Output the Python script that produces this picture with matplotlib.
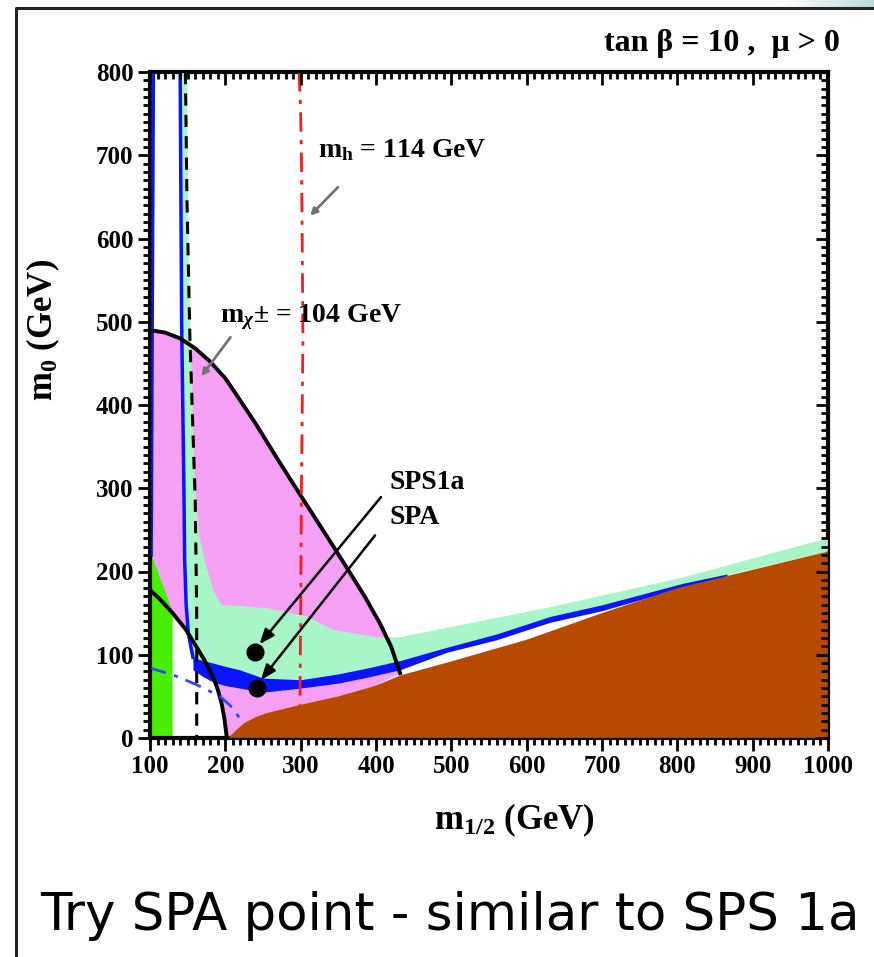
import numpy as np
import matplotlib.pyplot as plt
from matplotlib.colors import LinearSegmentedColormap
from matplotlib.ticker import MultipleLocator
from matplotlib.lines import Line2D

# ---- data (m_1/2, m_0 in GeV) ----
# outer g-2 boundary (solid black)
outer_x = [100, 120, 140, 160, 180, 200, 215, 240, 270, 303, 335, 361, 385, 405, 420, 432]
outer_y = [490, 487, 480, 468, 452, 432, 412, 378, 334, 287, 242, 205, 170, 138, 110, 78]
# inner g-2 boundary
inner_x = [100, 115, 130, 147, 162, 172, 180, 186, 190, 195, 199, 202]
inner_y = [178, 165, 150, 131, 109, 94, 80, 68, 58, 42, 22, 0]
# charged LSP region edge (brown)
stau_x = [200, 206, 215, 225, 240, 255, 300, 350, 400, 432, 500, 600, 700, 800, 900, 1000]
stau_y = [0, 2, 10, 18, 25, 30, 40, 50, 63, 75, 92, 118, 150, 180, 202, 224]
# b -> s gamma excluded strip (green)
bsg_x = [100, 130, 130, 100]
bsg_y = [0, 0, 152, 225]
# relic density region, upper edge (mint)
relic_top_x = [140, 149, 151, 155, 160, 166, 175, 185, 195, 255, 308, 343, 401, 432, 498, 631, 808, 1000]
relic_top_y = [800, 800, 600, 450, 300, 240, 205, 175, 160, 156, 146, 130, 121, 121, 133, 157, 193, 240]
# WMAP strip: thin part, then band
wmap_thin_x = [140, 142, 145, 146, 148, 151, 157]
wmap_thin_y = [800, 500, 300, 214, 160, 125, 97]
band_x = [157, 170, 184, 200, 219, 250, 300, 350, 388, 432, 494, 560, 631, 700, 808, 866]
band_hi = [97, 93, 90, 86, 82, 72, 70, 77, 84, 93, 109, 125, 146, 160, 186, 197]
band_lo = [82, 74, 67, 63, 60, 55, 60, 66, 73, 82, 103, 118, 139, 153, 181, 194]
# second WMAP strip along left edge
left_strip_x = [104, 103, 102, 101]
left_strip_y = [800, 600, 400, 220]
# chargino limit (black dashed)
chi_x = [147, 149, 153, 160, 162, 162]
chi_y = [800, 650, 480, 286, 150, 0]
# Higgs limit (red dash-dot)
higgs_x = [298, 300, 301, 302, 303, 301, 300, 299]
higgs_y = [800, 750, 700, 600, 480, 300, 150, 40]
# selectron limit (blue dash-dot)
sel_x = [100, 130, 162, 193, 210, 223]
sel_y = [84, 76, 64, 50, 36, 18]
# benchmark points
pts_name = ["SPS1a", "SPA"]
pts_x = [240, 242]
pts_y = [103, 60]

plt.rcParams['font.family'] = ['Liberation Serif', 'DejaVu Serif']
plt.rcParams['font.weight'] = 'bold'
plt.rcParams['axes.labelweight'] = 'bold'
plt.rcParams['mathtext.fontset'] = 'custom'
plt.rcParams['mathtext.rm'] = 'Liberation Serif:bold'
plt.rcParams['mathtext.it'] = 'Liberation Serif:italic:bold'
plt.rcParams['mathtext.bf'] = 'Liberation Serif:bold'

fig = plt.figure(figsize=(8.74, 9.57), dpi=100)
ax = fig.add_axes([150 / 874, 1 - 738 / 957, 678 / 874, 666 / 957])

pink = "#f5a0f5"
mint = "#a8f5c8"
blue = "#0a14ff"
brown = "#b84a00"
green = "#48f000"

# --- filled regions ---
px = outer_x + [x for x in stau_x[::-1] if 200 < x < 432] + inner_x[::-1]
py = outer_y + [y for x, y in zip(stau_x[::-1], stau_y[::-1]) if 200 < x < 432] + inner_y[::-1]
ax.fill(px, py, color=pink, lw=0, zorder=1)
ax.fill(bsg_x, bsg_y, color=green, lw=0, zorder=2)

band_c = [(a + b) / 2 for a, b in zip(band_hi, band_lo)]
mx = relic_top_x + [1000] + band_x[::-1] + wmap_thin_x[::-1]
my = relic_top_y + [224] + band_c[::-1] + wmap_thin_y[::-1]
ax.fill(mx, my, color=mint, lw=0, zorder=3)
ax.fill_betweenx(left_strip_y, 100, 102.5, color=mint, lw=0, zorder=3)

ax.fill_between(band_x, band_lo, band_hi, color=blue, lw=0, zorder=4)
ax.plot(wmap_thin_x, wmap_thin_y, color=blue, lw=2.5, zorder=4)
ax.plot(left_strip_x, left_strip_y, color=blue, lw=3, zorder=4)

ax.fill(stau_x + [1000], stau_y + [0], color=brown, lw=0, zorder=5)

# --- contour lines ---
ax.plot(outer_x, outer_y, color="black", lw=2.8, zorder=6)
ax.plot(inner_x, inner_y, color="black", lw=2.8, zorder=6)
ax.plot(chi_x, chi_y, color="black", lw=2.2, dashes=(4, 3), zorder=6)
ax.plot(higgs_x, higgs_y, color="#ff1a1a", lw=2, dashes=(7, 3, 1.5, 3), zorder=6)
ax.plot(sel_x, sel_y, color="#3046ff", lw=2, dashes=(6, 3, 1.5, 3), zorder=6)

# --- benchmark points ---
ax.plot(pts_x, pts_y, "o", color="black", ms=12, zorder=8)
ax.annotate("", xy=(pts_x[0] + 3, pts_y[0] + 7), xytext=(409, 292),
            arrowprops=dict(arrowstyle="-|>,head_length=0.9,head_width=0.35",
                            color="black", lw=1.8), zorder=9)
ax.annotate("", xy=(pts_x[1] + 3, pts_y[1] + 7), xytext=(401, 246),
            arrowprops=dict(arrowstyle="-|>,head_length=0.9,head_width=0.35",
                            color="black", lw=1.8), zorder=9)
ax.text(418, 307, pts_name[0], fontsize=20, va="center", ha="left", zorder=9)
ax.text(418, 265, pts_name[1], fontsize=20, va="center", ha="left", zorder=9)

# --- region labels ---
ax.text(323, 706, r"m$_{\rm h}$ = 114 GeV", fontsize=20, va="center", ha="left", zorder=9)
ax.annotate("", xy=(310, 625), xytext=(352, 664),
            arrowprops=dict(arrowstyle="-|>", color="0.45", lw=2), zorder=9)
ax.text(193, 505, r"m$_{\chi}$± = 104 GeV", fontsize=20, va="center", ha="left", zorder=9)
ax.annotate("", xy=(166, 432), xytext=(209, 484),
            arrowprops=dict(arrowstyle="-|>", color="0.45", lw=2), zorder=9)

# --- axes ---
ax.set_xlim(100, 1000)
ax.set_ylim(0, 800)
ax.xaxis.set_major_locator(MultipleLocator(100))
ax.xaxis.set_minor_locator(MultipleLocator(10))
ax.yaxis.set_major_locator(MultipleLocator(100))
ax.yaxis.set_minor_locator(MultipleLocator(10))
ax.tick_params(which="both", direction="out", width=2, labelsize=18, pad=3)
ax.tick_params(which="major", length=9)
ax.tick_params(which="minor", length=5)
for s in ax.spines.values():
    s.set_linewidth(3)

axr = ax.twinx()
axr.set_ylim(0, 800)
axr.yaxis.set_major_locator(MultipleLocator(100))
axr.yaxis.set_minor_locator(MultipleLocator(10))
axr.tick_params(which="both", direction="in", width=2, labelright=False)
axr.tick_params(which="major", length=9)
axr.tick_params(which="minor", length=5)
axt = ax.twiny()
axt.set_xlim(100, 1000)
axt.xaxis.set_major_locator(MultipleLocator(100))
axt.xaxis.set_minor_locator(MultipleLocator(10))
axt.tick_params(which="both", direction="in", width=2, labeltop=False)
axt.tick_params(which="major", length=9)
axt.tick_params(which="minor", length=5)

ax.set_xlabel(r"m$_{1/2}$ (GeV)", fontsize=25)
ax.xaxis.set_label_coords(0.538, -0.095)
ax.set_ylabel(r"m$_0$ (GeV)", fontsize=25)
ax.yaxis.set_label_coords(-0.13, 0.613)

fig.text(840 / 874, 1 - 43 / 957, "tan β = 10 ,  μ > 0", fontsize=23,
         ha="right", va="center")

# --- slide frame and caption ---
fig.add_artist(Line2D([16 / 874, 16 / 874, 1.0], [0.0, 1 - 8 / 957, 1 - 8 / 957],
                      transform=fig.transFigure, color="#222222", lw=2.2))
gax = fig.add_axes([780 / 874, 1 - 7 / 957, 94 / 874, 7 / 957])
grad = np.linspace(0, 1, 200).reshape(1, -1)
gax.imshow(grad, aspect="auto", cmap=LinearSegmentedColormap.from_list("g", ["white", "#bcdada"]))
gax.axis("off")

fig.text(40 / 874, 1 - 930 / 957, "Try SPA point - similar to SPS 1a",
         fontsize=37, fontweight="normal", family="DejaVu Sans",
         ha="left", va="baseline")

fig.savefig("out.png", dpi=100)
